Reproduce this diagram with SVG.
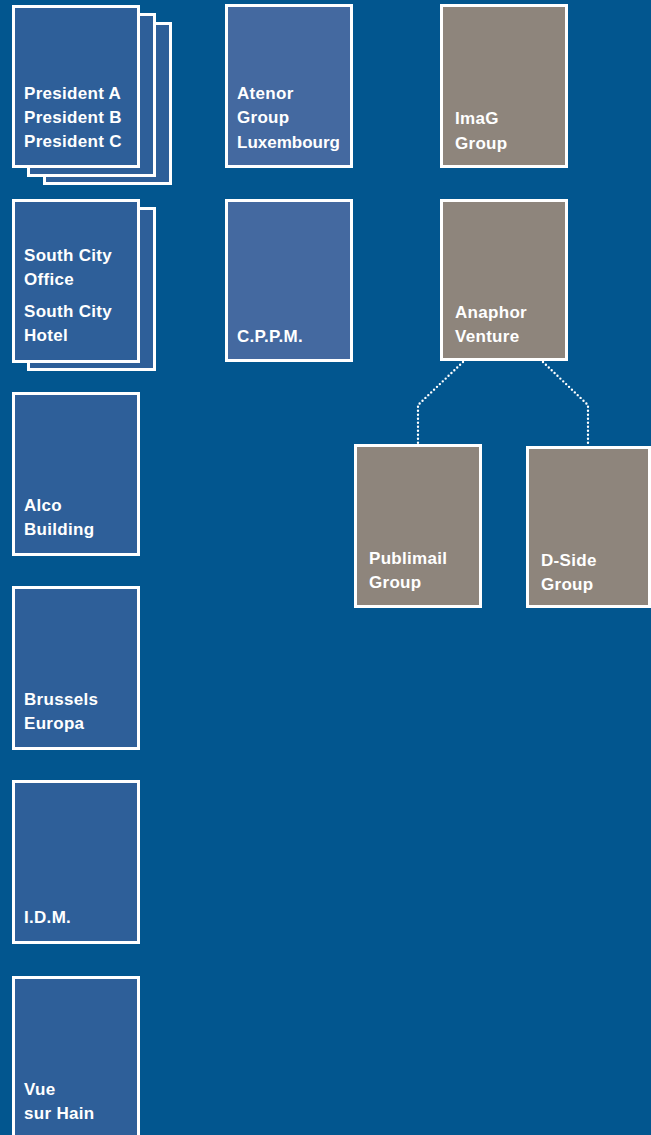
<svg xmlns="http://www.w3.org/2000/svg" width="651" height="1135" viewBox="0 0 651 1135">
<style>
.bg{fill:#02568F}
.b{fill:#2E5F99;stroke:#FFFFFF;stroke-width:3}
.l{fill:#4469A0;stroke:#FFFFFF;stroke-width:3}
.g{fill:#8E857C;stroke:#FFFFFF;stroke-width:3}
.t{font-family:"Liberation Sans",Arial,sans-serif;font-weight:bold;font-size:17px;fill:#FFFFFF;letter-spacing:0.3px}
.n{letter-spacing:0}
.c{fill:none;stroke:#FFFFFF;stroke-width:2.4;stroke-linecap:round;stroke-dasharray:0 4}
</style>
<rect class="bg" x="0" y="0" width="651" height="1135"/>
<g id="connectors">
<polyline class="c" points="463,362 418,405 418,444"/>
<polyline class="c" points="543,362 588,405 588,446"/>
</g>
<g id="president">
<rect class="b" x="44.5" y="23.5" width="126" height="160"/>
<rect class="b" x="28.5" y="14.5" width="126" height="161"/>
<rect class="b" x="13.5" y="6.5" width="125" height="160"/>
<text class="t" x="24" y="99">President A</text>
<text class="t" x="24" y="123">President B</text>
<text class="t" x="24" y="147">President C</text>
</g>
<g id="atenor">
<rect class="l" x="226.5" y="5.5" width="125" height="161"/>
<text class="t" x="237" y="99">Atenor</text>
<text class="t" x="237" y="123">Group</text>
<text class="t n" x="237" y="148">Luxembourg</text>
</g>
<g id="imag">
<rect class="g" x="441.5" y="5.5" width="125" height="161"/>
<text class="t" x="455" y="124">ImaG</text>
<text class="t" x="455" y="149">Group</text>
</g>
<g id="southcity">
<rect class="b" x="28.5" y="208.5" width="126" height="161"/>
<rect class="b" x="13.5" y="200.5" width="125" height="161"/>
<text class="t" x="24" y="261">South City</text>
<text class="t" x="24" y="285">Office</text>
<text class="t" x="24" y="317">South City</text>
<text class="t" x="24" y="341">Hotel</text>
</g>
<g id="cppm">
<rect class="l" x="226.5" y="200.5" width="125" height="160"/>
<text class="t" x="237" y="342">C.P.P.M.</text>
</g>
<g id="anaphor">
<rect class="g" x="441.5" y="200.5" width="125" height="159"/>
<text class="t" x="455" y="318">Anaphor</text>
<text class="t" x="455" y="342">Venture</text>
</g>
<g id="publimail">
<rect class="g" x="355.5" y="445.5" width="125" height="161"/>
<text class="t" x="369" y="564">Publimail</text>
<text class="t" x="369" y="588">Group</text>
</g>
<g id="dside">
<rect class="g" x="527.5" y="447.5" width="122" height="159"/>
<text class="t" x="541" y="566">D-Side</text>
<text class="t" x="541" y="590">Group</text>
</g>
<g id="alco">
<rect class="b" x="13.5" y="393.5" width="125" height="161"/>
<text class="t" x="24" y="511">Alco</text>
<text class="t" x="24" y="535">Building</text>
</g>
<g id="brussels">
<rect class="b" x="13.5" y="587.5" width="125" height="161"/>
<text class="t" x="24" y="705">Brussels</text>
<text class="t" x="24" y="729">Europa</text>
</g>
<g id="idm">
<rect class="b" x="13.5" y="781.5" width="125" height="161"/>
<text class="t" x="24" y="923">I.D.M.</text>
</g>
<g id="vue">
<rect class="b" x="13.5" y="977.5" width="125" height="161"/>
<text class="t" x="24" y="1095">Vue</text>
<text class="t" x="24" y="1119">sur Hain</text>
</g>
</svg>
